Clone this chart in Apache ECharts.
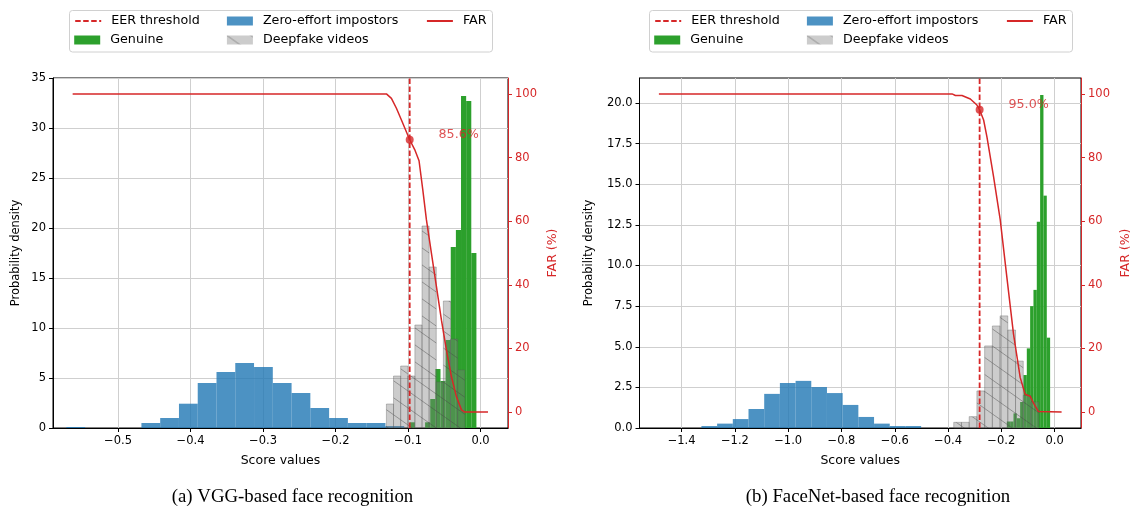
<!DOCTYPE html>
<html lang="en">
<head>
    <meta charset="UTF-8">
    <title>Score distributions and FAR</title>
    <script src="https://cdn.jsdelivr.net/npm/echarts@6/dist/echarts.min.js"></script>
    <style>
        html, body { margin: 0; padding: 0; background: #fff; }
        #main { width: 1133px; height: 508px; }
    </style>
</head>
<body>
<div id="main"></div>
<script>
    var myChart = echarts.init(document.getElementById('main'));

    // ---- (a) VGG ----
    // histograms: first bin edge, bin width, density per bin
    var vggImpStart = -0.5713, vggImpWidth = 0.02589;
    var vggImpDensity = [0.1, 0, 0, 0, 0.5, 1.0, 2.43, 4.5, 5.6, 6.5, 6.1, 4.5, 3.5, 2.0, 1.0, 0.5, 0.5, 0.2];
    var vggGenStart = -0.0977, vggGenWidth = 0.00708;
    var vggGenDensity = [0.57, 0, 0, 0.57, 2.9, 5.9, 4.7, 8.8, 18.1, 19.8, 33.2, 32.7, 17.5];
    var vggFakeStart = -0.1298, vggFakeWidth = 0.00982;
    var vggFakeDensity = [2.4, 5.2, 6.2, 5.2, 10.3, 20.2, 16.1, 4.6, 12.7, 8.9, 5.8];
    // FAR curve (%)
    var vggFarScore = [-0.5626, -0.1298, -0.1229, -0.1160, -0.1091, -0.0977, -0.0908, -0.0848, -0.0797, -0.0746,
        -0.0677, -0.0608, -0.0539, -0.0470, -0.0401, -0.0332, -0.0263, -0.0218, 0.0103];
    var vggFar = [100, 100, 98.6, 95.5, 91.8, 85.6, 82.5, 79.0, 70.0, 60.4, 49.9, 39.4, 28.9, 19.5, 11.1, 4.8, 0.7, 0, 0];
    var vggEer = -0.0977, vggEerFar = 85.6;
    var vggXTicks = [-0.5, -0.4, -0.3, -0.2, -0.1, 0];
    var vggYTicks = [0, 5, 10, 15, 20, 25, 30, 35];

    // ---- (b) FaceNet ----
    var fnImpStart = -1.3256, fnImpWidth = 0.0589;
    var fnImpDensity = [0.12, 0.27, 0.55, 1.17, 2.1, 2.77, 2.9, 2.52, 2.15, 1.42, 0.68, 0.27, 0.12, 0.12];
    var fnGenStart = -0.1794, fnGenWidth = 0.0125;
    var fnGenDensity = [0.4, 0.4, 0.9, 0.6, 1.6, 3.26, 4.9, 7.5, 8.5, 12.7, 20.5, 14.3, 5.56];
    var fnFakeStart = -0.3787, fnFakeWidth = 0.029;
    var fnFakeDensity = [0.35, 0.35, 0.7, 2.28, 5.05, 6.28, 6.9, 6.03, 4.12, 2.0, 1.6];
    var fnFarScore = [-1.4852, -0.3850, -0.3723, -0.3477, -0.3163, -0.2916, -0.2815, -0.2665, -0.2542, -0.2292,
        -0.2041, -0.1794, -0.1544, -0.1293, -0.1107, -0.0920, -0.0796, -0.0613, -0.0546, 0.0262];
    var fnFar = [100, 100, 99.5, 99.5, 98.4, 96.5, 95.0, 91.8, 86.6, 74.0, 60.4, 42.5, 24.6, 10.9, 5.6, 5.0, 2.9, 0.2, 0, 0];
    var fnEer = -0.2815, fnEerFar = 95.0;
    var fnXTicks = [-1.4, -1.2, -1.0, -0.8, -0.6, -0.4, -0.2, 0];
    var fnYTicks = [0, 2.5, 5, 7.5, 10, 12.5, 15, 17.5, 20];

    var farTicks = [0, 20, 40, 60, 80, 100];

    var RED = '#d62728';
    var BLUE = 'rgba(31,119,180,0.8)';
    var GREEN = '#2ca02c';
    var FONT = 'DejaVu Sans';

    // hatch tile for the deepfake bars
    var tile = document.createElement('canvas');
    tile.width = 24; tile.height = 17;
    var tctx = tile.getContext('2d');
    tctx.fillStyle = 'rgba(128,128,128,0.4)';
    tctx.fillRect(0, 0, 24, 17);
    tctx.strokeStyle = 'rgba(70,70,70,0.45)';
    tctx.lineWidth = 1;
    [-17, 0, 17].forEach(function (c) {
        tctx.beginPath(); tctx.moveTo(0, c); tctx.lineTo(24, c + 17); tctx.stroke();
    });
    var hatch = { image: tile, repeat: 'repeat' };

    function bins(start, width, dens) {
        var out = [];
        dens.forEach(function (h, i) {
            if (h > 0) out.push([start + i * width, start + (i + 1) * width, h]);
        });
        return out;
    }
    function pairs(xs, ys) {
        return xs.map(function (x, i) { return [x, ys[i]]; });
    }
    function fmtScore(v) {
        return (v < -1e-9 ? '\u2212' : '') + Math.abs(v).toFixed(1);
    }

    function histSeries(name, g, data, fill, stroke) {
        return {
            name: name, type: 'custom', xAxisIndex: g, yAxisIndex: 2 * g,
            encode: { x: [0, 1], y: 2 },
            itemStyle: { color: fill },
            renderItem: function (params, api) {
                var a = api.coord([api.value(0), api.value(2)]);
                var b = api.coord([api.value(1), 0]);
                return {
                    type: 'rect',
                    shape: { x: a[0], y: a[1], width: b[0] - a[0], height: b[1] - a[1] },
                    style: { fill: fill, stroke: stroke || null, lineWidth: stroke ? 1 : 0 }
                };
            },
            data: data
        };
    }

    var charts = [
        { imp: bins(vggImpStart, vggImpWidth, vggImpDensity), gen: bins(vggGenStart, vggGenWidth, vggGenDensity),
          fake: bins(vggFakeStart, vggFakeWidth, vggFakeDensity), far: pairs(vggFarScore, vggFar),
          eer: vggEer, eerFar: vggEerFar, xTicks: vggXTicks, yTicks: vggYTicks,
          xMin: -0.5897, xMax: 0.0379, yMax: 35, yDec: 0, left: 53, width: 455 },
        { imp: bins(fnImpStart, fnImpWidth, fnImpDensity), gen: bins(fnGenStart, fnGenWidth, fnGenDensity),
          fake: bins(fnFakeStart, fnFakeWidth, fnFakeDensity), far: pairs(fnFarScore, fnFar),
          eer: fnEer, eerFar: fnEerFar, xTicks: fnXTicks, yTicks: fnYTicks,
          xMin: -1.558, xMax: 0.099, yMax: 21.54, yDec: 1, left: 639.5, width: 443 }
    ];

    var grid = [], xAxis = [], yAxis = [], series = [], legend = [], graphic = [];

    // legend layout (matplotlib 3 columns, 2 rows)
    var legendFrames = [69.5, 649.5];
    var legendSlots = [
        { name: 'EER threshold', dx: 4.7, row: 0 },
        { name: 'Genuine', dx: 4.7, row: 1 },
        { name: 'Zero-effort impostors', dx: 157.4, row: 0 },
        { name: 'Deepfake videos', dx: 157.4, row: 1 },
        { name: 'FAR', dx: 356.4, row: 0 }
    ];
    var rowCenters = [21, 40];
    var captions = ['(a) VGG-based face recognition', '(b) FaceNet-based face recognition'];
    var captionX = [292.5, 878];

    charts.forEach(function (c, g) {
        grid.push({ left: c.left, width: c.width, top: 78, height: 350, show: true,
            borderColor: '#000', borderWidth: 1, containLabel: false });

        xAxis.push({
            type: 'value', gridIndex: g, min: c.xMin, max: c.xMax,
            name: 'Score values', nameLocation: 'middle', nameGap: 26,
            nameTextStyle: { fontSize: 12.5, color: '#000', fontFamily: FONT },
            axisLine: { show: true, onZero: false, lineStyle: { color: '#000', width: 1 } },
            axisTick: { show: true, length: 4, customValues: c.xTicks, lineStyle: { color: '#000' } },
            axisLabel: { customValues: c.xTicks, formatter: fmtScore, fontSize: 11.5, color: '#000', margin: 7, fontFamily: FONT },
            splitLine: { show: true, lineStyle: { color: '#cfcfcf', width: 1 } }
        });
        yAxis.push({
            type: 'value', gridIndex: g, position: 'left', min: 0, max: c.yMax,
            name: 'Probability density', nameLocation: 'middle', nameGap: g === 0 ? 31 : 44,
            nameTextStyle: { fontSize: 11.5, color: '#000', fontFamily: FONT },
            axisLine: { show: true, onZero: false, lineStyle: { color: '#000', width: 1 } },
            axisTick: { show: true, length: 4, customValues: c.yTicks, lineStyle: { color: '#000' } },
            axisLabel: { customValues: c.yTicks, fontSize: 11.5, color: '#000', margin: 7, fontFamily: FONT,
                formatter: function (v) { return v.toFixed(c.yDec); } },
            splitLine: { show: true, lineStyle: { color: '#cfcfcf', width: 1 } }
        });
        yAxis.push({
            type: 'value', gridIndex: g, position: 'right', min: -5, max: 105,
            name: 'FAR (%)', nameLocation: 'middle', nameGap: 38, nameRotate: 90,
            nameTextStyle: { fontSize: 12.5, color: RED, fontFamily: FONT },
            axisLine: { show: true, onZero: false, lineStyle: { color: RED, width: 1 } },
            axisTick: { show: true, length: 4, customValues: farTicks, lineStyle: { color: RED } },
            axisLabel: { customValues: farTicks, fontSize: 11.5, color: RED, margin: 7, fontFamily: FONT },
            splitLine: { show: false }
        });

        series.push(histSeries('Zero-effort impostors', g, c.imp, BLUE));
        series.push(histSeries('Genuine', g, c.gen, GREEN));
        series.push(histSeries('Deepfake videos', g, c.fake, hatch, 'rgba(90,90,90,0.35)'));
        series.push({
            name: 'FAR', type: 'line', xAxisIndex: g, yAxisIndex: 2 * g + 1,
            symbol: 'none', lineStyle: { color: RED, width: 1.5 }, itemStyle: { color: RED },
            data: c.far, z: 5
        });
        series.push({
            name: 'EER threshold', type: 'line', xAxisIndex: g, yAxisIndex: 2 * g,
            symbol: 'none', lineStyle: { color: RED, width: 1.8, type: [5.5, 2.5] }, itemStyle: { color: RED },
            data: [[c.eer, 0], [c.eer, c.yMax]], z: 6
        });
        series.push({
            name: 'EER point', type: 'scatter', xAxisIndex: g, yAxisIndex: 2 * g + 1,
            symbol: 'circle', symbolSize: 8, itemStyle: { color: RED }, z: 7,
            label: { show: true, position: 'inside', offset: [49, -5], color: RED, fontSize: 12.7, fontFamily: FONT,
                formatter: function (p) { return p.value[1].toFixed(1) + '%'; } },
            data: [[c.eer, c.eerFar]]
        });

        graphic.push({
            type: 'rect', z: 0,
            shape: { x: legendFrames[g], y: 10.5, width: 423, height: 41.5, r: 3 },
            style: { fill: 'rgba(255,255,255,0.8)', stroke: '#d0d0d0', lineWidth: 1 }
        });
        graphic.push({
            type: 'text', x: captionX[g], y: 497,
            style: { text: captions[g], fill: '#000', fontSize: 18.8, fontFamily: 'Liberation Serif',
                align: 'center', verticalAlign: 'middle', textAlign: 'center', textVerticalAlign: 'middle' }
        });

        legendSlots.forEach(function (s) {
            var isLine = s.name === 'EER threshold' || s.name === 'FAR';
            legend.push({
                left: legendFrames[g] + s.dx, top: rowCenters[s.row] - 6.5, padding: 0,
                itemWidth: 26, itemHeight: 9, selectedMode: false,
                textStyle: { fontSize: 12.7, color: '#000', fontFamily: FONT, padding: [0, 0, 0, 5] },
                data: [isLine ? { name: s.name, itemStyle: { opacity: 0 } } : { name: s.name, icon: 'rect' }]
            });
        });
    });

    var option = {
        animation: false,
        textStyle: { fontFamily: FONT },
        grid: grid,
        xAxis: xAxis,
        yAxis: yAxis,
        legend: legend,
        graphic: graphic,
        series: series
    };
    myChart.setOption(option);
</script>
</body>
</html>
